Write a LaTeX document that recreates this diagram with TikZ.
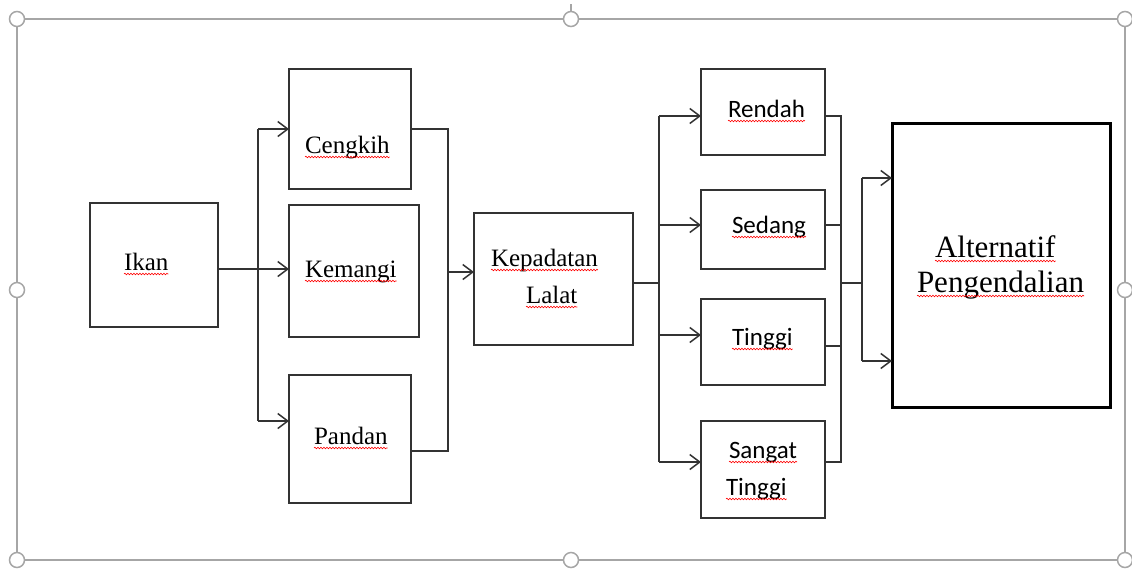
\documentclass[tikz,border=0pt]{standalone}
\usepackage{fontspec}
\setmainfont{Liberation Serif}
\newfontfamily\calfont{Carlito}
\usetikzlibrary{arrows.meta,decorations.pathmorphing,calc}
\definecolor{linec}{HTML}{333333}
\definecolor{framec}{HTML}{A6A6A6}
\begin{document}
\begin{tikzpicture}[x=1pt,y=-1pt,
  every node/.style={inner sep=0pt, outer sep=0pt},
  box/.style={draw=linec, line width=1.5pt, rectangle},
  conn/.style={draw=linec, line width=1.5pt},
  arr/.style={conn, -{Straight Barb[length=10pt,width=15pt,line width=1.5pt]}},
  tnr/.style={font=\fontsize{25}{30}\selectfont, text=black, anchor=base west},
  cal/.style={font=\calfont\fontsize{25}{30}\selectfont, text=black, anchor=base west},
  big/.style={font=\fontsize{31}{36}\selectfont, text=black, anchor=base west},
  squig/.style={draw=red, line width=0.6pt, decorate, decoration={snake, amplitude=0.8pt, segment length=3pt}},
  frame/.style={draw=framec, line width=1.5pt},
  handle/.style={circle, draw=framec, fill=white, line width=1.5pt, minimum size=15pt}
]
\useasboundingbox (0,0) rectangle (1132,576);
% selection frame
\draw[frame] (17,19) rectangle (1125,560);
\draw[frame] (571,4) -- (571,19);
\foreach \hx/\hy/\hn in {17/19/h1,571/19/h2,1125/19/h3,17/290/h4,1125/290/h5,17/560/h6,571/560/h7,1125/560/h8}
  \node[handle] (\hn) at (\hx,\hy) {};

% boxes
\node[box, minimum width=128pt, minimum height=124pt] (ikan) at (154,265) {};
\node[box, minimum width=122pt, minimum height=120pt] (cengkih) at (350,129) {};
\node[box, minimum width=130pt, minimum height=132pt] (kemangi) at (354,271) {};
\node[box, minimum width=122pt, minimum height=128pt] (pandan) at (350,439) {};
\node[box, minimum width=159pt, minimum height=132pt] (kep) at (553.5,279) {};
\node[box, minimum width=124pt, minimum height=86pt] (rendah) at (763,112) {};
\node[box, minimum width=124pt, minimum height=79pt] (sedang) at (763,229.5) {};
\node[box, minimum width=124pt, minimum height=86pt] (tinggi) at (763,342) {};
\node[box, minimum width=124pt, minimum height=97pt] (sangat) at (763,469.5) {};
\node[draw=black, line width=3pt, minimum width=218pt, minimum height=284pt] (alt) at (1001,265.5) {};

% texts
\node[tnr] (tIkan) at (124,270) {Ikan};
\node[tnr] (tCengkih) at (305,153) {Cengkih};
\node[tnr] (tKemangi) at (305,277) {Kemangi};
\node[tnr] (tPandan) at (314,444) {Pandan};
\node[tnr] (tKep) at (491,266) {Kepadatan};
\node[tnr] (tLalat) at (526,303) {Lalat};
\node[cal] (tRendah) at (728,117) {Rendah};
\node[cal] (tSedang) at (732,233) {Sedang};
\node[cal] (tTinggi) at (732,345) {Tinggi};
\node[cal] (tSangat) at (729,458) {Sangat};
\node[cal] (tTinggiB) at (726,495) {Tinggi};
\node[big] (tAlt) at (935,257) {Alternatif};
\node[big] (tPeng) at (917,292) {Pengendalian};

% spell-check underlines
\foreach \t in {tIkan,tCengkih,tKemangi,tPandan,tKep,tLalat,tRendah,tSedang,tTinggi,tSangat,tTinggiB,tAlt,tPeng}
  \draw[squig] ($(\t.base west)+(0,4)$) -- ($(\t.base east)+(0,4)$);

% connectors: Ikan -> herbs
\coordinate (j1) at (258,269);
\coordinate (j1a) at (258,129);
\coordinate (j1b) at (258,421);
\draw[conn] (ikan.east |- j1) -- (j1);
\draw[conn] (j1a) -- (j1b);
\draw[arr] (j1a) -- (cengkih.west |- j1a);
\draw[arr] (j1) -- (kemangi.west |- j1);
\draw[arr] (j1b) -- (pandan.west |- j1b);

% herbs -> Kepadatan
\coordinate (j2a) at (448,129);
\coordinate (j2b) at (448,451);
\coordinate (j2) at (448,272);
\draw[conn] (cengkih.east |- j2a) -- (j2a) -- (j2b) -- (pandan.east |- j2b);
\draw[arr] (j2) -- (kep.west |- j2);

% Kepadatan -> levels
\coordinate (j3) at (659,283);
\coordinate (j3a) at (659,116);
\coordinate (j3c) at (659,225);
\coordinate (j3d) at (659,335);
\coordinate (j3b) at (659,462);
\draw[conn] (kep.east |- j3) -- (j3);
\draw[conn] (j3a) -- (j3b);
\draw[arr] (j3a) -- (rendah.west |- j3a);
\draw[arr] (j3c) -- (sedang.west |- j3c);
\draw[arr] (j3d) -- (tinggi.west |- j3d);
\draw[arr] (j3b) -- (sangat.west |- j3b);

% levels -> Alternatif
\coordinate (j4a) at (841,116);
\coordinate (j4c) at (841,225);
\coordinate (j4d) at (841,346);
\coordinate (j4b) at (841,462);
\coordinate (j4) at (841,283);
\coordinate (j5) at (862,283);
\coordinate (j5a) at (862,178);
\coordinate (j5b) at (862,361);
\draw[conn] (rendah.east |- j4a) -- (j4a) -- (j4b) -- (sangat.east |- j4b);
\draw[conn] (sedang.east |- j4c) -- (j4c);
\draw[conn] (tinggi.east |- j4d) -- (j4d);
\draw[conn] (j4) -- (j5);
\draw[conn] (j5a) -- (j5b);
\draw[arr] (j5a) -- (alt.west |- j5a);
\draw[arr] (j5b) -- (alt.west |- j5b);
\end{tikzpicture}
\end{document}
